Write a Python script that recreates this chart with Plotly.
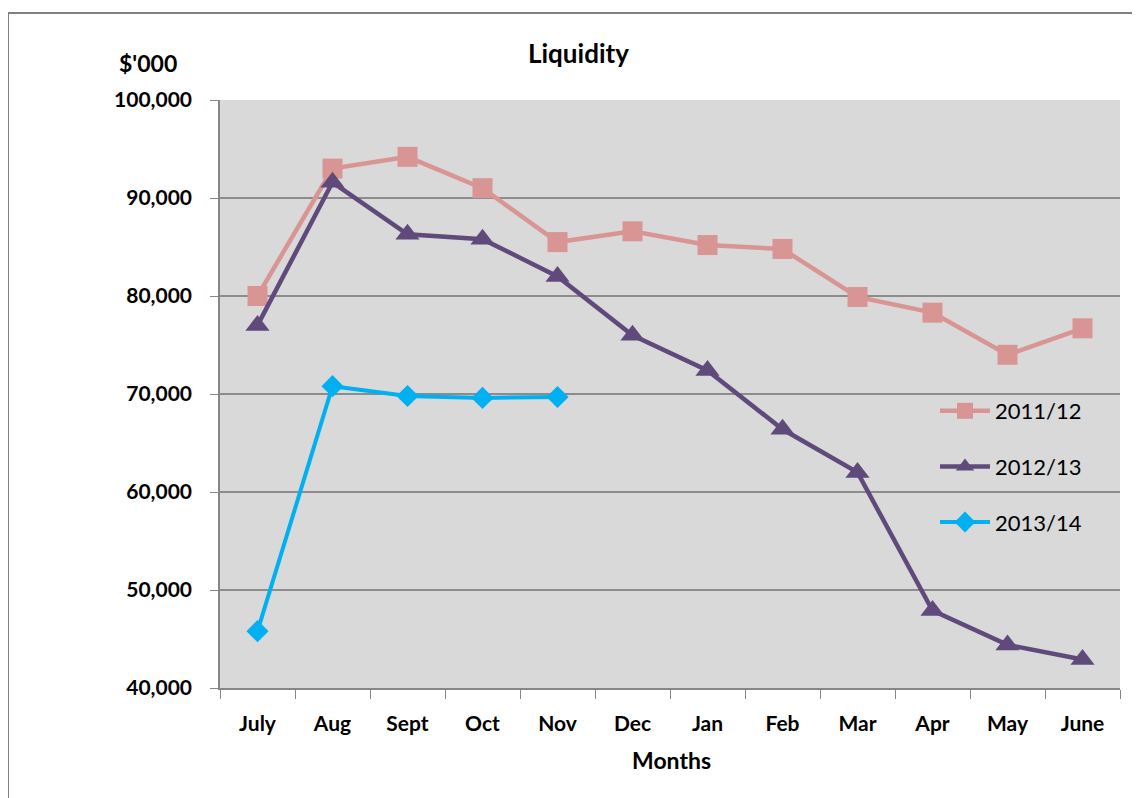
import plotly.graph_objects as go

months = ["July", "Aug", "Sept", "Oct", "Nov", "Dec", "Jan", "Feb", "Mar", "Apr", "May", "June"]
s2011 = [80000, 93000, 94200, 91000, 85500, 86600, 85200, 84800, 79900, 78300, 74000, 76700]
s2012 = [77000, 91600, 86300, 85800, 82000, 76000, 72400, 66400, 62000, 47900, 44400, 42900]
s2013 = [45800, 70800, 69800, 69600, 69700]
y_ticks = [40000, 50000, 60000, 70000, 80000, 90000, 100000]

FONT = "Lato"
fig = go.Figure()
fig.add_trace(go.Scatter(x=months, y=s2011, name="2011/12", mode="lines+markers", legendgroup="a",
                         line=dict(color="#D99594", width=4.5),
                         marker=dict(symbol="square", size=20, color="#D99594")))
fig.add_trace(go.Scatter(x=months, y=s2012, name="2012/13", mode="lines+markers", legendgroup="b",
                         line=dict(color="#604A7B", width=4.5),
                         marker=dict(symbol="triangle-up", size=21, color="#604A7B")))
fig.add_trace(go.Scatter(x=months[:len(s2013)], y=s2013, name="2013/14", mode="lines+markers", legendgroup="c",
                         line=dict(color="#00B0F0", width=4),
                         marker=dict(symbol="diamond", size=17, color="#00B0F0")))

OFF = 8  # default page body margin
W, H = 1140 - OFF, 798 - OFF
L, R, T, B = 220, 1120, 100, 688  # plot area in page pixels
def px(x): return (x - L) / (R - L)
def py(y): return (B - y) / (B - T)

fig.update_layout(
    width=W, height=H,
    margin=dict(l=L - OFF, r=W - (R - OFF), t=T - OFF, b=H - (B - OFF)),
    paper_bgcolor="white", plot_bgcolor="#D9D9D9",
    showlegend=True,
    legend=dict(x=px(935), y=py(390), xanchor="left", yanchor="top",
                bgcolor="rgba(0,0,0,0)", font=dict(family=FONT, size=22, color="black"),
                tracegroupgap=24, itemwidth=50),
    font=dict(family=FONT, color="black"),
    annotations=[
        dict(text="<b>Liquidity</b>", x=px(578), y=py(53), xref="paper", yref="paper",
             showarrow=False, xanchor="center", yanchor="middle", font=dict(size=26, family=FONT)),
        dict(text="<b>$'000</b>", x=px(148), y=py(63), xref="paper", yref="paper",
             showarrow=False, xanchor="center", yanchor="middle", font=dict(size=23, family=FONT)),
        dict(text="<b>Months</b>", x=px(671), y=py(760), xref="paper", yref="paper",
             showarrow=False, xanchor="center", yanchor="middle", font=dict(size=23, family=FONT)),
    ],
    shapes=[
        dict(type="rect", xref="paper", yref="paper", x0=px(8), y0=py(815), x1=px(1160), y1=py(13),
             line=dict(color="#808080", width=2), layer="below"),
    ],
)
fig.update_xaxes(
    type="category", range=[-0.5, 11.5], showgrid=False,
    showline=True, linecolor="#868686", linewidth=1.5, mirror=False,
    ticks="outside", tickson="boundaries", ticklen=9, tickcolor="#868686",
    tickfont=dict(family=FONT, size=21, color="black"),
    tickvals=months, ticktext=["<b>%s</b>" % m for m in months],
    ticklabelstandoff=16,
)
fig.update_yaxes(
    range=[40000, 100000], tickvals=y_ticks, ticktext=["<b>{:,}</b>".format(v) for v in y_ticks],
    showgrid=True, gridcolor="#8C8C8C", gridwidth=1.5,
    showline=True, linecolor="#868686", linewidth=1.5,
    ticks="outside", ticklen=8, tickcolor="#868686",
    tickfont=dict(family=FONT, size=21, color="black"),
    ticklabelstandoff=14, zeroline=False,
)
fig.write_html("out.html")
